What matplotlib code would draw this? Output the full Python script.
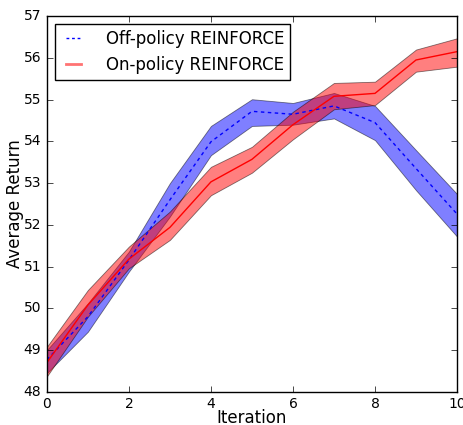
import numpy as np
import matplotlib
matplotlib.use('Agg')
import matplotlib.pyplot as plt
from matplotlib.lines import Line2D

plt.style.use('classic')

# Average return per iteration, mean with lower/upper band
iterations = np.arange(11)
off_mean = [48.77, 49.80, 51.16, 52.60, 53.99, 54.72, 54.65, 54.85, 54.45, 53.35, 52.26]
off_low = [48.45, 49.44, 50.88, 52.20, 53.67, 54.37, 54.40, 54.55, 54.03, 52.83, 51.72]
off_high = [49.00, 50.12, 51.36, 53.00, 54.37, 55.01, 54.92, 55.16, 54.85, 53.79, 52.74]
on_mean = [48.70, 50.08, 51.18, 51.94, 53.03, 53.57, 54.40, 55.08, 55.15, 55.95, 56.15]
on_low = [48.37, 49.80, 50.96, 51.64, 52.71, 53.25, 54.05, 54.77, 54.87, 55.67, 55.79]
on_high = [49.08, 50.44, 51.48, 52.32, 53.39, 53.87, 54.71, 55.40, 55.43, 56.20, 56.47]

fig = plt.figure(figsize=(4.64, 4.25), dpi=100, facecolor='white')
ax = fig.add_axes([0.101, 0.078, 0.884, 0.884])

ax.fill_between(iterations, off_low, off_high, facecolor='blue', edgecolor='k',
                linewidth=0.6, alpha=0.5)
ax.fill_between(iterations, on_low, on_high, facecolor='red', edgecolor='k',
                linewidth=0.6, alpha=0.5)
ax.plot(iterations, off_mean, 'b--', dashes=(2.5, 2.5))
ax.plot(iterations, on_mean, 'r-')

ax.set_xlim(0, 10)
ax.set_ylim(48, 57)
ax.set_xlabel('Iteration', fontsize=12, labelpad=-2)
ax.set_ylabel('Average Return', fontsize=12, labelpad=0)
ax.tick_params(labelsize=10)

handles = [Line2D([], [], color='b', linestyle='--', dashes=(2, 2)),
           Line2D([], [], color='r', linewidth=2, alpha=0.55)]
ax.legend(handles, ['Off-policy REINFORCE', 'On-policy REINFORCE'],
          loc='upper left', fontsize=12, borderaxespad=0.5,
          handlelength=1.5, handletextpad=1.2, labelspacing=0.45, borderpad=0.35)

fig.savefig('out.png', dpi=100, facecolor='white')
